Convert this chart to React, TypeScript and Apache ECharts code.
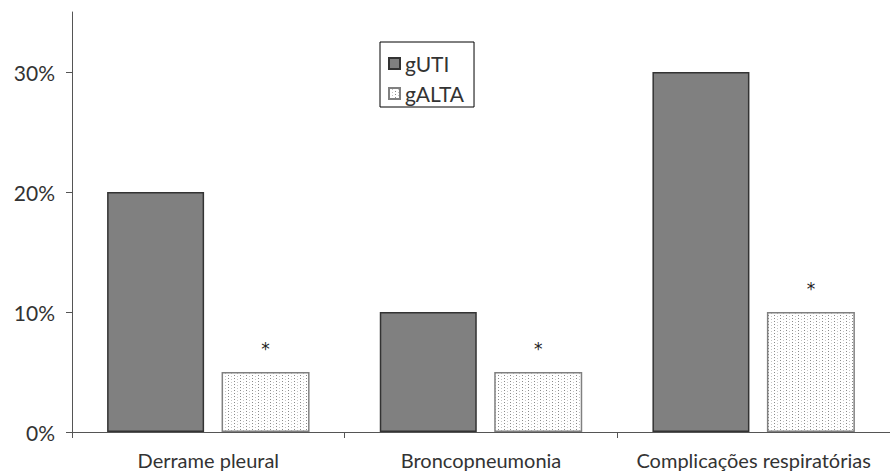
import React, { useEffect, useRef } from "react";
import * as echarts from "echarts";

const categories = ["Derrame pleural", "Broncopneumonia", "Complicações respiratórias"];
const seriesNames = ["gUTI", "gALTA"];
const gUTI = [20, 10, 30];
const gALTA = [5, 5, 10];
const yTicks = [0, 10, 20, 30];

function makeDots(): HTMLCanvasElement {
  const c = document.createElement("canvas");
  c.width = 6;
  c.height = 6;
  const ctx = c.getContext("2d")!;
  ctx.fillStyle = "#ffffff";
  ctx.fillRect(0, 0, 6, 6);
  ctx.fillStyle = "#8a8a8a";
  ctx.fillRect(0, 0, 1, 1);
  ctx.fillRect(0, 3, 1, 1);
  ctx.fillStyle = "#c4c4c4";
  ctx.fillRect(3, 1, 1, 1);
  ctx.fillRect(3, 4, 1, 1);
  return c;
}

export default function App() {
  const ref = useRef<HTMLDivElement>(null);
  useEffect(() => {
    document.body.style.margin = "0";
    const chart = echarts.init(ref.current!, undefined, { renderer: "svg" });
    const dots = makeDots();
    const font = "Lato, 'Open Sans', sans-serif";
    chart.setOption({
      animation: false,
      backgroundColor: "#ffffff",
      grid: { left: 72, right: -3, top: 12, bottom: 42, containLabel: false },
      legend: {
        orient: "vertical",
        left: 380,
        top: 42,
        data: seriesNames,
        icon: "rect",
        itemWidth: 11,
        itemHeight: 11,
        itemGap: 9,
        padding: [11, 10, 3, 8],
        borderColor: "#000",
        borderWidth: 1,
        textStyle: { fontFamily: font, fontSize: 21, color: "#333" },
      },
      xAxis: {
        type: "category",
        data: categories,
        axisLine: { lineStyle: { color: "#555", width: 1 } },
        axisTick: { show: true, length: 6, lineStyle: { color: "#555" } },
        axisLabel: {
          fontFamily: font,
          fontSize: 20,
          color: "#333",
          margin: 18,
          interval: 0,
          hideOverlap: false,
        },
      },
      yAxis: {
        type: "value",
        min: 0,
        max: 35,
        interval: 10,
        splitLine: { show: false },
        axisLine: { show: true, lineStyle: { color: "#555", width: 1 } },
        axisTick: { show: true, length: 6, lineStyle: { color: "#555" }, customValues: yTicks },
        axisLabel: {
          fontFamily: font,
          fontSize: 21,
          color: "#333",
          margin: 17,
          customValues: yTicks,
          formatter: (v: number) => `${v}%`,
        },
      },
      series: [
        {
          name: seriesNames[0],
          type: "bar",
          data: gUTI,
          barWidth: 97,
          barGap: "18%",
          itemStyle: { color: "#808080", borderColor: "#333", borderWidth: 1.5 },
        },
        {
          name: seriesNames[1],
          type: "bar",
          data: gALTA,
          barWidth: 88,
          itemStyle: {
            color: { image: dots, repeat: "repeat", imageWidth: 6, imageHeight: 6 },
            borderColor: "#808080",
            borderWidth: 1.5,
          },
          label: {
            show: true,
            position: "top",
            distance: 15,
            formatter: "*",
            fontFamily: "'DejaVu Sans', sans-serif",
            fontSize: 17,
            color: "#222",
          },
        },
      ],
    });
    return () => chart.dispose();
  }, []);
  return <div ref={ref} style={{ width: 890, height: 474 }} />;
}
